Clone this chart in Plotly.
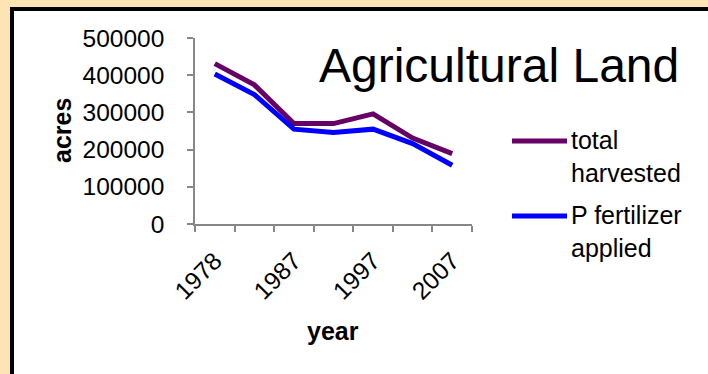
import plotly.graph_objects as go

# Census years and harvested / fertilized cropland (acres)
years = ["1978", "1982", "1987", "1992", "1997", "2002", "2007"]
total_harvested = [431000, 374000, 270000, 270000, 296000, 231000, 189000]
p_fertilizer_applied = [403000, 348000, 255000, 246000, 255000, 216000, 158000]
year_tick_labels = ["1978", "", "1987", "", "1997", "", "2007"]
acre_ticks = [0, 100000, 200000, 300000, 400000, 500000]

series_names = ["total<br>harvested", "P fertilizer<br>applied"]
series_colors = ["#660066", "#0000FF"]

W, H = 708, 374
L, R, T, B = 195, 236, 38, 150
PW, PH = W - L - R, H - T - B
FONT = "Liberation Sans, Arial, sans-serif"
AXIS_GREY = "#878787"


def px_x(px):
    return (px - L) / PW


def px_y(py):
    return (H - B - py) / PH


fig = go.Figure()
for name, vals, color in zip(series_names, [total_harvested, p_fertilizer_applied], series_colors):
    fig.add_trace(go.Scatter(
        x=years, y=vals, mode="lines", name=name,
        line=dict(color=color, width=5), hoverinfo="skip", showlegend=False,
    ))

shapes = [
    # white chart panel with heavy black frame
    dict(type="rect", xref="paper", yref="paper", layer="below",
         x0=px_x(12), x1=px_x(730), y0=px_y(9), y1=px_y(400),
         fillcolor="white", line=dict(color="black", width=4)),
]

annotations = [
    dict(text="Agricultural Land", x=px_x(317), y=px_y(65), xref="paper", yref="paper",
         xanchor="left", yanchor="middle", showarrow=False,
         font=dict(family=FONT, size=48, color="black")),
    dict(text="<b>acres</b>", x=px_x(62), y=px_y(131), xref="paper", yref="paper",
         xanchor="center", yanchor="middle", textangle=-90, showarrow=False,
         font=dict(family=FONT, size=25, color="black")),
    dict(text="<b>year</b>", x=px_x(333), y=px_y(331), xref="paper", yref="paper",
         xanchor="center", yanchor="middle", showarrow=False,
         font=dict(family=FONT, size=25, color="black")),
]

# legend drawn as line swatches beside wrapped labels
legend_rows = [141, 216]
for name, color, row in zip(series_names, series_colors, legend_rows):
    shapes.append(dict(type="line", xref="paper", yref="paper",
                       x0=px_x(512), x1=px_x(567), y0=px_y(row), y1=px_y(row),
                       line=dict(color=color, width=5)))
    annotations.append(dict(text=name, x=px_x(569), y=px_y(row - 17), xref="paper", yref="paper",
                            xanchor="left", yanchor="top", align="left", showarrow=False,
                            font=dict(family=FONT, size=25, color="black")))

fig.update_layout(
    width=W, height=H, autosize=False,
    margin=dict(l=L, r=R, t=T, b=B, pad=0),
    paper_bgcolor="#FEE4B5", plot_bgcolor="rgba(0,0,0,0)",
    font=dict(family=FONT, color="black"),
    shapes=shapes, annotations=annotations,
    showlegend=False,
)
fig.update_xaxes(
    type="category", range=[-0.5, len(years) - 0.5],
    tickvals=years, ticktext=year_tick_labels,
    tickson="boundaries", ticks="outside", ticklen=6, tickcolor=AXIS_GREY, tickwidth=1.5,
    showline=True, linecolor=AXIS_GREY, linewidth=1.5, showgrid=False, zeroline=False,
    tickangle=-45, tickfont=dict(family=FONT, size=24.5, color="black"),
    ticklabelstandoff=11,
)
fig.update_yaxes(
    range=[0, 500000], tickvals=acre_ticks, ticktext=[str(v) for v in acre_ticks],
    ticks="outside", ticklen=6, tickcolor=AXIS_GREY, tickwidth=1.5,
    showline=True, linecolor=AXIS_GREY, linewidth=1.5, showgrid=False, zeroline=False,
    tickfont=dict(family=FONT, size=24.5, color="black"), ticklabelstandoff=18,
)

fig.write_html("out.html")
